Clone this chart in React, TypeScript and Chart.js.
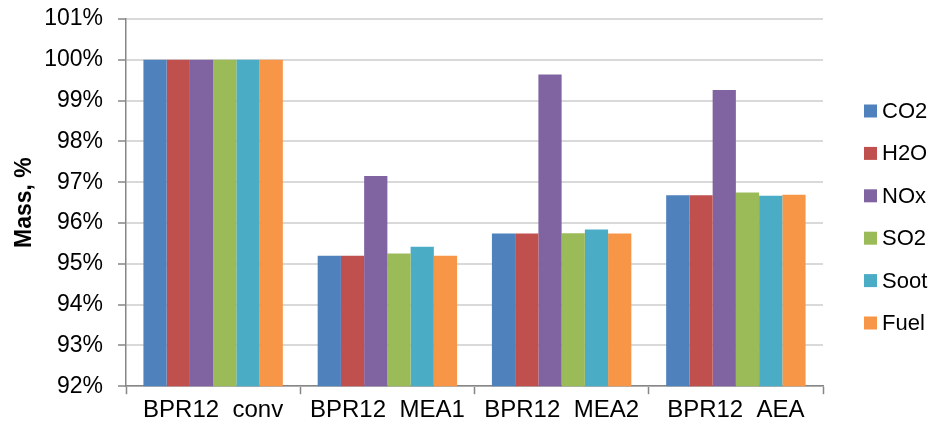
import React, { useEffect, useRef } from "react";
import { Chart, registerables } from "chart.js";

Chart.register(...registerables);

const categories = ["BPR12  conv", "BPR12  MEA1", "BPR12  MEA2", "BPR12  AEA"];
const seriesNames = ["CO2", "H2O", "NOx", "SO2", "Soot", "Fuel"];
const co2 = [100, 95.2, 95.74, 96.68];
const h2o = [100, 95.2, 95.74, 96.68];
const nox = [100, 97.15, 99.64, 99.26];
const so2 = [100, 95.25, 95.75, 96.75];
const soot = [100, 95.42, 95.84, 96.67];
const fuel = [100, 95.2, 95.74, 96.69];
const colors = ["#4F81BD", "#C0504D", "#8064A2", "#9BBB59", "#4BACC6", "#F79646"];
const yMin = 92;
const yMax = 101;
const yStep = 1;

const FONT = "'Liberation Sans', Arial, sans-serif";

const sideLegend = {
  id: "sideLegend",
  afterDraw(chart: any) {
    const { ctx, chartArea } = chart;
    const items = chart.data.datasets;
    const spacing = 42.4;
    const cy = 217;
    const x = chartArea.right + 41;
    ctx.save();
    ctx.font = `22px ${FONT}`;
    ctx.textBaseline = "middle";
    ctx.textAlign = "left";
    items.forEach((ds: any, i: number) => {
      const y = cy + (i - (items.length - 1) / 2) * spacing;
      ctx.fillStyle = ds.backgroundColor;
      ctx.fillRect(x, y - 6.5, 13, 13);
      ctx.fillStyle = "#000";
      ctx.fillText(ds.label, x + 18, y + 1);
    });
    ctx.restore();
  },
};

export default function App() {
  const ref = useRef<HTMLCanvasElement | null>(null);
  useEffect(() => {
    if (!ref.current) return;
    const values = [co2, h2o, nox, so2, soot, fuel];
    const chart = new Chart(ref.current, {
      type: "bar",
      data: {
        labels: categories,
        datasets: seriesNames.map((name, i) => ({
          label: name,
          data: values[i],
          backgroundColor: colors[i],
          borderWidth: 0,
          categoryPercentage: 0.8,
          barPercentage: 1,
        })),
      },
      options: {
        responsive: false,
        animation: false,
        layout: { padding: { left: 0, right: 109, top: 19, bottom: -3 } },
        plugins: {
          tooltip: { enabled: false },
          legend: { display: false },
        },
        scales: {
          x: {
            grid: {
              drawOnChartArea: false,
              drawTicks: true,
              tickLength: 8,
              tickColor: "#868686",
              tickWidth: 1.5,
            },
            border: { color: "#868686", width: 1.5 },
            ticks: {
              color: "#000",
              padding: 2,
              font: { family: FONT, size: 24 },
              maxRotation: 0,
            },
          },
          y: {
            min: yMin,
            max: yMax,
            afterFit: (s: any) => {
              s.width = 126;
              s.paddingTop = 0;
              s.paddingBottom = 0;
            },
            ticks: {
              stepSize: yStep,
              color: "#000",
              padding: 15,
              font: { family: FONT, size: 23 },
              callback: (v: any) => v + "%",
            },
            grid: {
              color: "#d9d9d9",
              lineWidth: 2,
              tickLength: 8,
              tickColor: "#868686",
              tickWidth: 1.5,
            },
            border: { color: "#868686", width: 1.5 },
            title: {
              display: true,
              text: "Mass, %",
              color: "#000",
              font: { family: FONT, size: 23, weight: "bold" },
              padding: { top: 11, bottom: 0 },
            },
          },
        },
      },
      plugins: [sideLegend],
    });
    return () => chart.destroy();
  }, []);
  return (
    <div style={{ position: "fixed", left: 0, top: 0, width: 932, height: 424, background: "#fff" }}>
      <canvas ref={ref} width={932} height={424} style={{ display: "block" }} />
    </div>
  );
}
